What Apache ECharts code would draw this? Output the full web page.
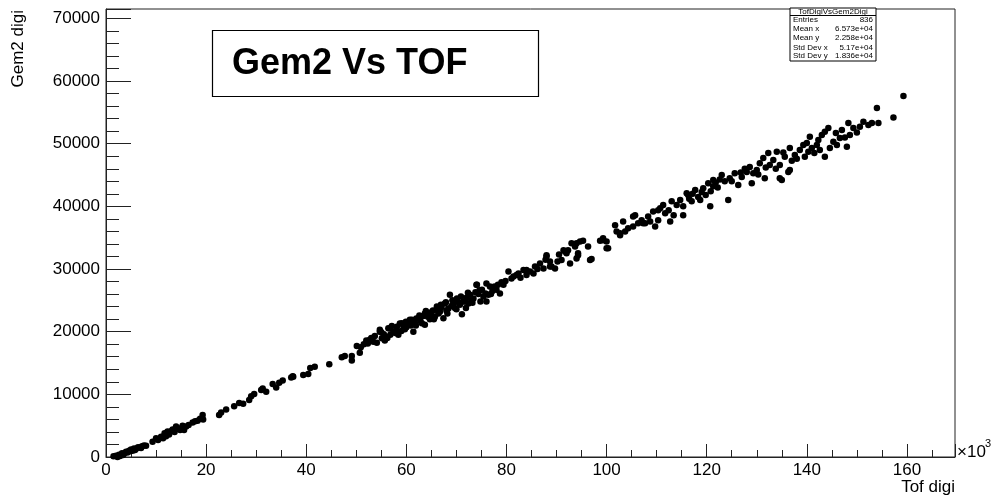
<!DOCTYPE html>
<html>
<head>
<meta charset="utf-8">
<script src="https://cdn.jsdelivr.net/npm/echarts@6/dist/echarts.min.js"></script>
<style>
html,body{margin:0;padding:0;background:#fff;}
#chart{width:996px;height:498px;}
</style>
</head>
<body>
<div id="chart"></div>
<script>
// Tof digi (thousands) and Gem2 digi (thousands)
const lowBand = [
[1.5,0.1],[2.0,0.2],[2.3,0.0],[2.6,0.35],[2.8,0.15],[3.0,0.3],[3.2,0.6],[3.4,0.3],[3.6,0.5],[4.0,0.85],[4.3,0.7],
[4.6,1.0],[4.8,0.9],[5.0,1.2],[5.3,1.0],[5.6,1.35],[5.8,1.1],[6.0,1.3],[6.4,1.55],[6.8,1.5],[7.0,1.45],[7.2,1.7],
[7.6,1.85],[8.0,1.8],
[9.3,2.45],[10.0,3.0],[10.4,2.7],[11.0,3.25],[11.4,3.0],[11.7,3.8],[12.0,3.3],[12.3,4.05],[12.6,3.6],[13.0,4.1],
[13.3,4.4],[13.7,4.0],[14.0,4.85],[14.4,4.5],[14.8,4.3],[15.0,4.6],[15.3,5.0],[15.6,4.3],[16.0,4.85],[16.5,5.1],
[17.3,5.5],[17.8,5.7],[18.3,5.8],[18.8,6.1],[19.3,6.7],[19.4,6.0],
[22.6,6.7],[23.0,7.1],[24.0,7.6],[25.6,8.1],[26.6,8.6],[27.4,8.5],[28.6,9.1],[29.0,9.7],[29.6,10.05],
[31.0,10.7],[31.3,10.95],[32.0,10.4],[33.3,11.65],[34.0,11.1],[34.6,11.85],[35.3,12.2],[37.0,12.7],
[37.3,12.9],[37.4,12.8],[39.4,13.1],[40.4,13.25],[40.8,14.2],[41.7,14.4],[44.6,14.8],[47.1,15.9],
[47.7,16.1],[49.1,16.1],[49.1,15.4],[50.1,17.7],[50.9,17.5],[50.7,16.65]
];
const midBand = [
[51.5,18.0],[52.0,18.6],[52.3,18.1],[52.7,18.7],[53.4,18.4],[53.0,19.0],[53.7,19.3],[54.1,18.25],[54.7,20.0],
[54.7,20.3],[55.0,19.9],[55.1,18.95],[55.7,18.6],[55.5,19.6],[56.0,19.2],[56.2,19.0],[56.4,20.55],[56.7,20.5],
[56.8,19.5],[57.1,20.9],[57.4,20.0],[57.8,19.8],[58.0,20.2],[58.1,20.8],[58.4,19.5],[58.7,21.3],[59.0,20.1],
[59.1,21.35],[59.4,20.9],[59.7,20.4],[59.9,21.6],[60.0,20.7],[60.4,21.1],[60.7,21.9],[60.9,21.0],[61.1,21.9],
[61.4,20.0],[61.7,21.35],[61.9,21.0],[62.0,22.1],[62.4,22.15],[62.6,22.6],[62.8,21.7],[63.1,21.35],[63.4,22.5],
[63.7,22.9],[63.7,21.1],[63.9,23.3],[64.0,22.9],[64.3,22.4],[64.7,22.0],[64.8,22.6],[65.0,23.1],[65.3,23.4],
[65.5,22.0],[65.7,22.4],[66.0,23.5],[66.1,24.0],[66.4,22.9],[66.7,23.2],[66.9,24.3],[67.0,23.9],[67.4,22.15],
[67.7,24.5],[67.9,24.7],[68.0,23.4],[68.2,22.9],[68.4,23.7],[68.7,25.9],[69.0,24.1],[69.2,25.0],[69.4,24.5],
[69.7,23.8],[70.0,23.6],[70.1,25.3],[70.4,24.7],[70.7,24.3],[70.9,25.6],[71.1,22.8],[71.4,24.8],[71.7,24.8],
[71.9,23.8],[72.0,25.4],[72.3,26.2],[72.4,24.5],[72.7,25.9],[73.0,25.0],[73.2,24.6],[73.4,25.3],[73.8,26.3],
[74.1,27.5],[74.0,27.5],[74.4,26.0],[74.6,26.6],[74.8,24.8],[75.1,26.7],[75.4,25.6],[75.8,26.1],[76.0,27.7],
[76.0,24.8],[76.4,25.9],[76.7,27.2],[76.9,26.0],[77.2,26.5],[77.6,27.2],[78.0,26.7],[78.3,27.5],[78.7,26.1],
[79.0,27.9],[79.4,27.5],[79.8,28.1]
];
const upperBand = [
[80.4,29.6],[81.0,28.5],[81.4,28.8],[82.0,29.05],[82.4,29.3],[82.8,28.6],[83.4,29.85],[84.0,29.05],[84.0,29.85],
[84.7,29.6],[85.4,29.3],[85.7,30.4],[86.2,30.0],[86.7,30.9],[87.4,30.1],[87.8,31.5],[88.0,32.0],[88.0,32.2],
[88.7,31.2],[88.7,30.4],[89.0,30.4],[89.7,30.1],[90.2,31.2],[90.5,32.3],[91.0,31.45],[91.4,33.0],[91.7,32.8],
[92.0,32.5],[92.3,33.0],[92.7,30.9],[93.0,34.1],[93.7,33.6],[94.0,31.7],[94.0,34.1],[94.3,32.5],[94.3,32.2],
[94.7,34.4],[95.3,34.5],[96.3,33.6],[96.7,31.45],[97.0,31.6],[98.7,34.5],[99.3,34.9],[99.3,34.6],[100.0,34.4],
[100.0,33.3],[100.3,33.3],
[101.7,37.0],[102.0,36.0],[102.7,35.7],[102.7,35.4],[103.3,37.6],[103.7,36.0],[104.3,36.5],[105.3,36.8],
[105.3,38.4],[105.7,38.6],[106.3,37.3],[107.0,37.8],[107.3,37.3],[107.7,37.3],[108.3,38.4],[108.7,37.6],
[109.3,39.2],[109.7,36.8],[110.3,37.8],[110.3,39.4],[110.7,39.7],[111.3,40.2],[111.7,38.9],[112.4,39.4],
[112.7,37.6],[113.0,40.8],[113.4,38.6],[114.0,40.2]
];
const topBand = [
[114.7,41.0],[115.3,40.0],[115.3,38.6],[116.0,42.1],[116.3,41.8],[116.5,41.2],[117.0,40.8],[117.2,42.0],
[117.7,42.6],[118.3,41.5],[118.7,41.0],[119.0,42.3],[119.3,42.9],[119.8,41.8],[120.3,43.7],[120.7,40.0],
[120.8,42.4],[121.3,44.2],[121.3,43.2],[121.8,43.8],[122.2,43.0],[122.6,44.3],[123.0,45.0],[123.6,44.0],
[124.3,41.0],[124.6,44.5],[125.0,44.0],[125.6,45.3],[126.3,43.4],[126.8,45.4],[127.0,44.7],[127.6,46.0],
[128.0,45.5],[128.6,46.3],[129.0,43.7],[129.3,45.3],[130.0,45.8],[130.3,45.1],[130.6,46.9],[131.3,47.7],
[131.6,44.5],[131.8,46.2],[132.3,48.5],[132.6,46.6],[133.3,47.4],[133.8,46.0],[134.0,48.7],[134.6,46.6],
[134.6,44.5],[135.0,44.2],[135.3,48.6],[135.6,47.9],[136.3,45.5],[136.6,49.3],[136.6,45.8],[137.0,47.3],
[137.6,48.2],[138.0,47.6],[138.6,49.0],[139.3,49.8],[139.6,47.9],[140.0,50.1],[140.3,48.7],[140.6,51.1],
[141.0,49.3],[141.5,48.5],[142.0,49.8],[142.3,50.6],[142.6,49.0],[143.0,51.4],[143.6,51.9],[143.6,47.9],
[144.3,52.5],[144.6,49.3],[145.3,50.3],[145.8,51.7],[146.0,49.8],[146.6,50.9],[147.0,52.2],[147.6,51.0],
[148.0,49.5],[148.3,53.3],[148.6,51.4],[149.3,52.5],[150.0,51.8],[150.6,52.7],[151.3,53.5],[152.3,53.0],
[153.0,53.3],[154.0,55.7],[154.3,53.3],[157.3,54.2],[159.3,57.6]
];
const xTicks = [0, 20, 40, 60, 80, 100, 120, 140, 160];
const yTicks = [0, 10000, 20000, 30000, 40000, 50000, 60000, 70000];
const statsLabels = ['Entries', 'Mean x', 'Mean y', 'Std Dev x', 'Std Dev y'];
const statsValues = ['836', '6.573e+04', '2.258e+04', '5.17e+04', '1.836e+04'];
const histName = 'TofDigiVsGem2Digi';
const titleText = 'Gem2 Vs TOF';

const points = [].concat(lowBand, midBand, upperBand, topBand).map(p => [p[0] * 1000, p[1] * 1000]);

const FONT = '"Liberation Sans", Arial, Helvetica, sans-serif';
const chart = echarts.init(document.getElementById('chart'), null, {renderer: 'canvas'});

const statsGraphics = [];
const boxX = 790, boxY = 8, boxW = 86, boxH = 53;
statsGraphics.push({type: 'rect', shape: {x: boxX, y: boxY, width: boxW, height: boxH},
  style: {fill: '#fff', stroke: '#000', lineWidth: 1}, z: 100});
statsGraphics.push({type: 'line', shape: {x1: boxX, y1: 15.5, x2: boxX + boxW, y2: 15.5},
  style: {stroke: '#000', lineWidth: 1}, z: 101});
statsGraphics.push({type: 'text', x: boxX + boxW / 2, y: 11.5, z: 102,
  style: {text: histName, font: '8px ' + FONT, fill: '#000', align: 'center', verticalAlign: 'middle'}});
const rowY = [20, 29, 38, 47.5, 56];
statsLabels.forEach((l, i) => {
  statsGraphics.push({type: 'text', x: boxX + 3, y: rowY[i], z: 102,
    style: {text: l, font: '8px ' + FONT, fill: '#000', align: 'left', verticalAlign: 'middle'}});
  statsGraphics.push({type: 'text', x: boxX + boxW - 3, y: rowY[i], z: 102,
    style: {text: statsValues[i], font: '8px ' + FONT, fill: '#000', align: 'right', verticalAlign: 'middle'}});
});

chart.setOption({
  animation: false,
  backgroundColor: '#fff',
  grid: {left: 106, right: 41, top: 9, bottom: 41, show: true, borderColor: '#222', borderWidth: 1, containLabel: false},
  xAxis: {
    type: 'value', min: 0, max: 169600, interval: 20000,
    axisLine: {show: true, onZero: false, lineStyle: {color: '#222', width: 1}},
    axisTick: {show: true, inside: true, length: 13, lineStyle: {color: '#222'}},
    minorTick: {show: true, splitNumber: 4, length: 7, lineStyle: {color: '#222'}},
    splitLine: {show: false},
    axisLabel: {
      margin: 5, fontSize: 17, color: '#000', fontFamily: FONT, showMaxLabel: false,
      formatter: v => (xTicks.indexOf(v / 1000) >= 0 ? String(v / 1000) : '')
    }
  },
  yAxis: {
    type: 'value', min: 0, max: 71500, interval: 10000,
    axisLine: {show: true, onZero: false, lineStyle: {color: '#222', width: 1}},
    axisTick: {show: true, inside: true, length: 25, lineStyle: {color: '#222'}},
    minorTick: {show: true, splitNumber: 5, length: 13, lineStyle: {color: '#222'}},
    splitLine: {show: false},
    axisLabel: {
      margin: 6, fontSize: 17, color: '#000', fontFamily: FONT, showMaxLabel: false,
      formatter: v => (yTicks.indexOf(v) >= 0 ? String(v) : '')
    }
  },
  series: [{
    type: 'scatter', name: histName, data: points, symbol: 'circle', symbolSize: 6.5,
    itemStyle: {color: '#000', opacity: 1}, silent: true
  }],
  graphic: [
    {type: 'rect', shape: {x: 212.5, y: 30.5, width: 326, height: 66},
      style: {fill: '#fff', stroke: '#000', lineWidth: 1.2}, z: 100},
    {type: 'text', x: 232, y: 64, z: 101,
      style: {text: titleText, font: 'bold 36px ' + FONT, fill: '#000', align: 'left', verticalAlign: 'middle'}},
    {type: 'text', x: 18, y: 10, rotation: Math.PI / 2, z: 101,
      style: {text: 'Gem2 digi', font: '17px ' + FONT, fill: '#000', align: 'right', verticalAlign: 'middle'}},
    {type: 'text', x: 955, y: 487, z: 101,
      style: {text: 'Tof digi', font: '17px ' + FONT, fill: '#000', align: 'right', verticalAlign: 'middle'}},
    {type: 'text', x: 957, y: 452, z: 101,
      style: {text: '×10', font: '17px ' + FONT, fill: '#000', align: 'left', verticalAlign: 'middle'}},
    {type: 'text', x: 985, y: 444, z: 101,
      style: {text: '3', font: '11px ' + FONT, fill: '#000', align: 'left', verticalAlign: 'middle'}}
  ].concat(statsGraphics)
});
</script>
</body>
</html>
